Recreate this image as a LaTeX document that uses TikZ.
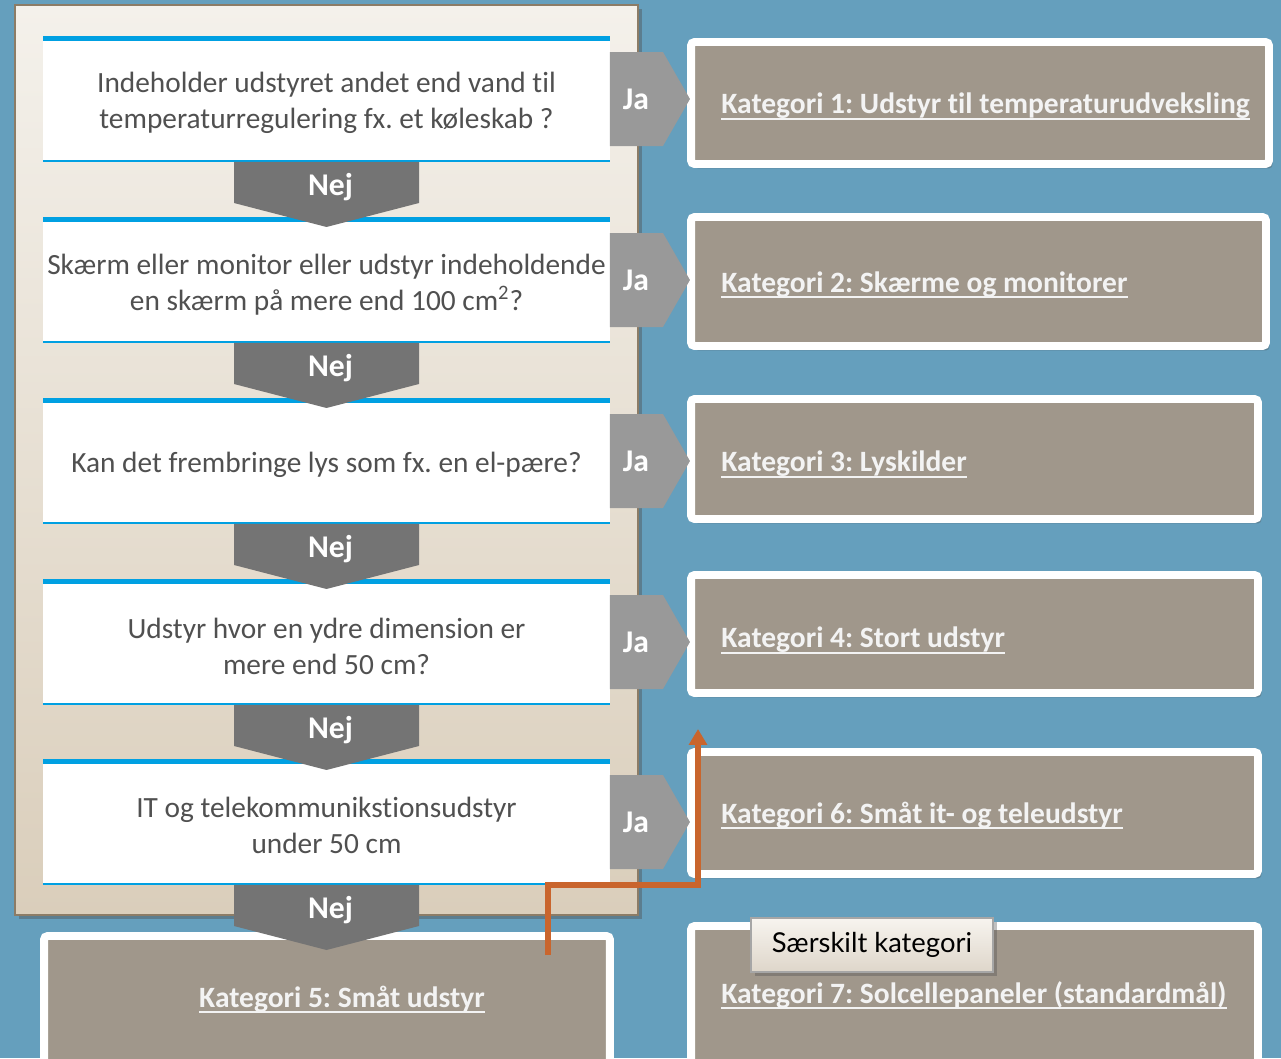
\documentclass[tikz,border=0pt]{standalone}
\usepackage{fontspec}
\setmainfont[Ligatures=NoCommon]{Carlito}
\newfontfamily\notefont{Lato}
\usepackage{xcolor}
\definecolor{bgblue}{RGB}{101,159,189}
\definecolor{panellight}{RGB}{244,241,235}
\definecolor{paneldark}{RGB}{218,206,187}
\definecolor{panelrim}{RGB}{140,124,102}
\definecolor{qblue}{RGB}{0,160,226}
\definecolor{qtext}{RGB}{80,80,80}
\definecolor{nejgray}{RGB}{116,116,116}
\definecolor{jagray}{RGB}{153,153,153}
\definecolor{katgray}{RGB}{160,151,139}
\definecolor{kattext}{RGB}{243,243,243}
\definecolor{notelight}{RGB}{247,244,239}
\definecolor{notedark}{RGB}{222,214,202}
\definecolor{pathorange}{RGB}{201,101,45}
\usetikzlibrary{arrows.meta, calc, shadows}

\newcommand{\qfont}{\fontsize{16.7}{20.5}\selectfont}
\newcommand{\katfont}{\fontsize{16.8}{20}\selectfont\bfseries}
\newcommand{\pilfont}{\fontsize{18}{20}\selectfont\bfseries}
\frenchspacing

\begin{document}
\begin{tikzpicture}[x=0.02cm, y=-0.02cm,
  panel/.style={top color=panellight, bottom color=paneldark, draw=panelrim,
    line width=0.9pt, inner sep=0pt, outer sep=0pt,
    drop shadow={shadow xshift=2.5pt, shadow yshift=-2.5pt, opacity=.4, fill=black!70}},
  question/.style={fill=white, inner sep=0pt, outer sep=0pt,
    minimum width=11.34cm, minimum height=2.52cm},
  qtxt/.style={text=qtext, align=center, font=\qfont, inner sep=0pt},
  kategori/.style={fill=katgray, draw=white, line width=4.5pt, rounded corners=2pt,
    inner sep=0pt, outer sep=0pt,
    drop shadow={shadow xshift=2pt, shadow yshift=-2.5pt, opacity=.35, fill=black!70}},
  kattxt/.style={text=kattext, font=\katfont, inner sep=0pt},
  katline/.style={kattext, line width=1.1pt},
  pil/.style={text=white, font=\pilfont, inner sep=0pt},
  notebox/.style={top color=notelight, bottom color=notedark, draw=black!35,
    line width=0.8pt, minimum width=4.84cm, minimum height=1.08cm,
    font=\notefont\fontsize{15.6}{18}\selectfont, text=black,
    drop shadow={shadow xshift=2pt, shadow yshift=-2pt, opacity=.35, fill=black!70}},
  orangepath/.style={pathorange, line width=2.9pt,
    -{Triangle[width=10pt, length=9pt]}}]

  \useasboundingbox (0,0) rectangle (1281,1058);
  \fill[bgblue] (0,0) rectangle (1281,1058);
  \clip (0,0) rectangle (1281,1058);

  % Left panel holding the questions
  \node[panel, minimum width=12.46cm, minimum height=18.2cm] (panel) at (326.5,460) {};

  % Questions
  \node[question] (q1) at (326.5,99) {};
  \node[question] (q2) at (326.5,280) {};
  \node[question] (q3) at (326.5,461) {};
  \node[question] (q4) at (326.5,642) {};
  \node[question] (q5) at (326.5,822) {};

  \node[qtxt] (q1txt) at ($(q1)+(0,4)$)
       {Indeholder udstyret andet end vand til\\temperaturregulering fx. et køleskab ?};
  \node[qtxt] (q2txt) at ($(q2)+(0,5)$)
       {Skærm eller monitor eller udstyr indeholdende\\en skærm på mere end 100 cm\textsuperscript{2}?};
  \node[qtxt] (q3txt) at ($(q3)+(0,4)$)
       {Kan det frembringe lys som fx. en el-pære?};
  \node[qtxt] (q4txt) at ($(q4)+(0,4)$)
       {Udstyr hvor en ydre dimension er\\mere end 50 cm?};
  \node[qtxt] (q5txt) at ($(q5)+(0,3)$)
       {IT og telekommunikstionsudstyr\\under 50 cm};

  % Blue rules on top and bottom of each question
  \foreach \i in {1,...,5} {
    \draw[qblue, line width=2.8pt] ($(q\i.north west)+(0,2.5)$) -- ($(q\i.north east)+(0,2.5)$);
    \draw[qblue, line width=1.1pt] ($(q\i.south west)+(0,-1)$) -- ($(q\i.south east)+(0,-1)$);
  }

  % Categories
  \node[kategori, minimum width=11.56cm, minimum height=2.44cm] (k1) at (980,103) {};
  \node[kategori, minimum width=11.5cm, minimum height=2.58cm] (k2) at (978.5,281.5) {};
  \node[kategori, minimum width=11.34cm, minimum height=2.4cm] (k3) at (974.5,459) {};
  \node[kategori, minimum width=11.34cm, minimum height=2.36cm] (k4) at (974.5,634) {};
  \node[kategori, minimum width=11.34cm, minimum height=2.44cm] (k6) at (974.5,813) {};
  \node[kategori, minimum width=11.34cm, minimum height=2.88cm] (k7) at (974.5,998) {};
  \node[kategori, minimum width=11.32cm, minimum height=2.68cm] (k5) at (327,1003) {};

  \node[kattxt, anchor=west] (k1txt) at ($(k1.west)+(30,3)$)
       {Kategori 1: Udstyr til temperaturudveksling};
  \node[kattxt, anchor=west] (k2txt) at ($(k2.west)+(30,3)$)
       {Kategori 2: Skærme og monitorer};
  \node[kattxt, anchor=west] (k3txt) at ($(k3.west)+(30,5)$)
       {Kategori 3: Lyskilder};
  \node[kattxt, anchor=west] (k4txt) at ($(k4.west)+(30,6)$)
       {Kategori 4: Stort udstyr};
  \node[kattxt, anchor=west] (k6txt) at ($(k6.west)+(30,2)$)
       {Kategori 6: Småt it- og teleudstyr};
  \node[kattxt, anchor=west] (k7txt) at (721,995)
       {Kategori 7: Solcellepaneler (standardmål)};
  \node[kattxt] (k5txt) at (342,999)
       {Kategori 5: Småt udstyr};

  % underline the category names
  \foreach \t in {k1txt,k2txt,k3txt,k4txt,k5txt,k6txt,k7txt}
    \draw[katline] ($(\t.base west)+(0,-2.8pt)$) -- ($(\t.base east)+(0,-2.8pt)$);

  % Ja arrows
  \foreach \i in {1,...,5} {
    \fill[jagray] ($(q\i.east)+(0,-47)$) -- ++(53,0) -- ++(27,47)
         -- ++(-27,47) -- ++(-53,0) -- cycle;
    \node[pil] (ja\i) at ($(q\i.east)+(26,0)$) {Ja};
  }

  % Nej arrows
  \foreach \i in {1,...,5} {
    \fill[nejgray] ($(q\i.south)+(-92.5,0)$) -- ++(185,0) -- ++(0,41)
         -- ++(-92.5,24) -- ++(-92.5,-24) -- cycle;
    \node[pil] (nej\i) at ($(q\i.south)+(4,25)$) {Nej};
  }

  % Separate category note
  \node[notebox] (saer) at (872,945) {Særskilt kategori};

  % Orange path from category 5 up to category 6
  \coordinate (orStart) at (548,955);
  \coordinate (orEnd) at (698,729);
  \draw[orangepath] (orStart) -- (orStart |- q5.south) -| (orEnd);
\end{tikzpicture}
\end{document}
